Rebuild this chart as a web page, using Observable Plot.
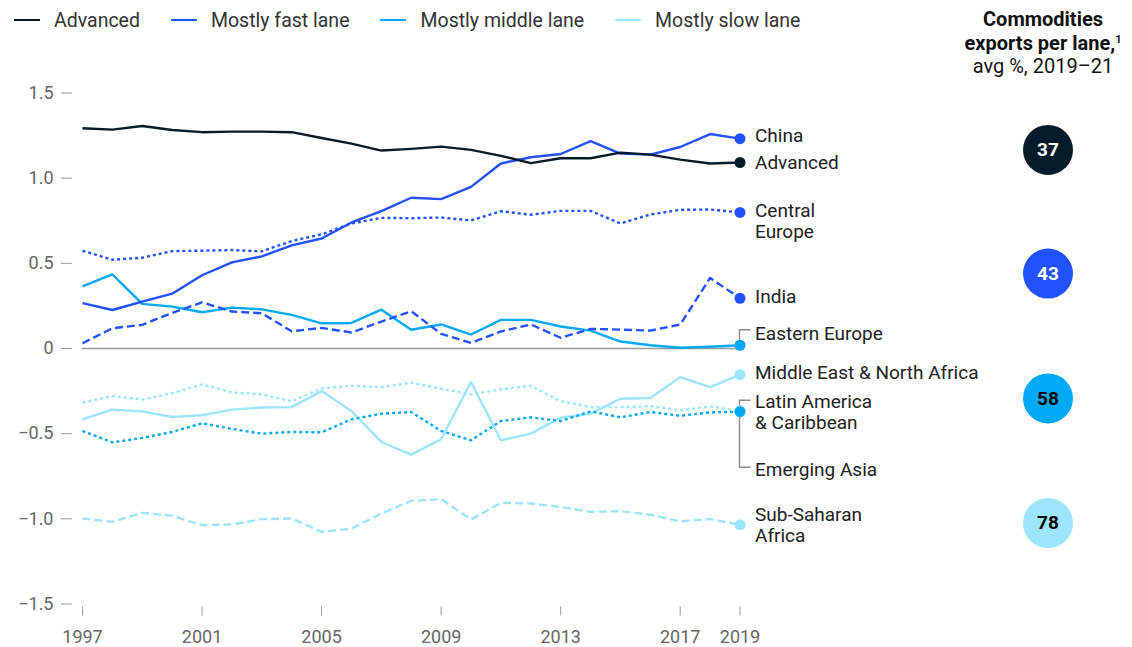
<!DOCTYPE html>
<html>
<head>
<meta charset="utf-8">
<script src="https://cdn.jsdelivr.net/npm/d3@7"></script>
<script src="https://cdn.jsdelivr.net/npm/@observablehq/plot@0.6"></script>
<style>
  body { margin: 0; background: #fff; font-family: Roboto, "Open Sans", sans-serif; }
  #wrap { position: relative; width: 1132px; height: 647px; overflow: hidden; }
  #legend { height: 40px; display: flex; align-items: center; padding-left: 14px; box-sizing: border-box; }
  .item { display: flex; align-items: center; margin-right: 31px; font-size: 19.5px; color: #333; }
  .swatch { width: 26px; height: 2px; margin-right: 14px; }
  #note { position: absolute; top: 8px; left: 943px; width: 200px; text-align: center;
          font-size: 20px; line-height: 23.5px; color: #111; }
  #note b sup { font-size: 11px; vertical-align: 7px; line-height: 0; }
  #chart svg { display: block; }
</style>
</head>
<body>
<div id="wrap">
  <div id="legend"></div>
  <div id="note"><b>Commodities<br>exports per lane,<sup>1</sup></b><br>avg %, 2019–21</div>
  <div id="chart"></div>
</div>
<script>
// ---- data ----
const years = [1997, 1998, 1999, 2000, 2001, 2002, 2003, 2004, 2005, 2006, 2007, 2008,
               2009, 2010, 2011, 2012, 2013, 2014, 2015, 2016, 2017, 2018, 2019];
const tickYears = [1997, 2001, 2005, 2009, 2013, 2017, 2019];

const lanes = ["Advanced", "Mostly fast lane", "Mostly middle lane", "Mostly slow lane"];
const laneExports = [37, 43, 58, 78];

const advanced      = [1.293, 1.285, 1.306, 1.283, 1.270, 1.273, 1.273, 1.270, 1.236, 1.203, 1.162, 1.172,
                       1.185, 1.166, 1.131, 1.088, 1.117, 1.117, 1.150, 1.138, 1.109, 1.086, 1.092];
const china         = [0.266, 0.226, 0.275, 0.322, 0.430, 0.506, 0.541, 0.605, 0.646, 0.740, 0.806, 0.885,
                       0.877, 0.949, 1.086, 1.123, 1.142, 1.218, 1.144, 1.138, 1.183, 1.259, 1.232];
const centralEurope = [0.574, 0.521, 0.533, 0.572, 0.574, 0.578, 0.570, 0.631, 0.670, 0.734, 0.767, 0.765,
                       0.769, 0.752, 0.806, 0.785, 0.808, 0.808, 0.734, 0.787, 0.814, 0.816, 0.799];
const india         = [0.031, 0.119, 0.139, 0.209, 0.271, 0.217, 0.207, 0.101, 0.121, 0.094, 0.158, 0.219,
                       0.086, 0.033, 0.100, 0.141, 0.063, 0.115, 0.111, 0.105, 0.141, 0.414, 0.295];
const easternEurope = [0.365, 0.435, 0.262, 0.246, 0.213, 0.240, 0.230, 0.197, 0.148, 0.150, 0.228, 0.110,
                       0.141, 0.082, 0.168, 0.168, 0.129, 0.105, 0.041, 0.019, 0.004, 0.010, 0.019];
const latinAmerica  = [-0.484, -0.551, -0.525, -0.490, -0.439, -0.472, -0.500, -0.490, -0.492, -0.416, -0.383, -0.373,
                       -0.484, -0.539, -0.426, -0.404, -0.426, -0.369, -0.404, -0.373, -0.395, -0.375, -0.371];
const mena          = [-0.416, -0.359, -0.369, -0.402, -0.392, -0.359, -0.346, -0.344, -0.250, -0.367, -0.549, -0.623,
                       -0.533, -0.197, -0.539, -0.500, -0.406, -0.383, -0.295, -0.291, -0.168, -0.227, -0.154];
const emergingAsia  = [-0.318, -0.279, -0.300, -0.262, -0.211, -0.258, -0.269, -0.310, -0.234, -0.219, -0.227, -0.201,
                       -0.236, -0.269, -0.240, -0.219, -0.309, -0.344, -0.344, -0.338, -0.363, -0.340, -0.367];
const subSaharan    = [-0.998, -1.017, -0.965, -0.982, -1.037, -1.033, -1.002, -0.998, -1.076, -1.058, -0.969, -0.894,
                       -0.885, -1.004, -0.906, -0.910, -0.930, -0.959, -0.955, -0.976, -1.015, -1.002, -1.035];

// ---- styling ----
const laneColor = {
  "Advanced": "#051C2C",
  "Mostly fast lane": "#2251FF",
  "Mostly middle lane": "#00A9F4",
  "Mostly slow lane": "#9DE5FC"
};
const dotted = "3,3", dashed = "8,4";

// series: label, values, lane, dash pattern, vertical label nudge (px)
const series = [
  {name: "Sub-Saharan\nAfrica", values: subSaharan, lane: "Mostly slow lane", dash: dashed, dy: 0},
  {name: "Emerging Asia", values: emergingAsia, lane: "Mostly slow lane", dash: dotted, dy: 58},
  {name: "Middle East & North Africa", values: mena, lane: "Mostly slow lane", dash: null, dy: -2},
  {name: "Latin America\n& Caribbean", values: latinAmerica, lane: "Mostly middle lane", dash: dotted, dy: 0},
  {name: "Eastern Europe", values: easternEurope, lane: "Mostly middle lane", dash: null, dy: -12},
  {name: "India", values: india, lane: "Mostly fast lane", dash: dashed, dy: -2},
  {name: "Central\nEurope", values: centralEurope, lane: "Mostly fast lane", dash: dotted, dy: 8},
  {name: "China", values: china, lane: "Mostly fast lane", dash: null, dy: -3},
  {name: "Advanced", values: advanced, lane: "Advanced", dash: null, dy: 0}
];

// vertical anchors (in y units) of the export-share badges
const badgeAnchor = [1.166, 0.44, -0.293, -1.025];

// ---- legend ----
const legend = d3.select("#legend");
lanes.forEach(l => {
  const it = legend.append("div").attr("class", "item");
  it.append("div").attr("class", "swatch").style("background", laneColor[l]);
  it.append("span").text(l);
});

// ---- chart ----
const lastYear = years[years.length - 1];
const marks = [];

marks.push(Plot.ruleY([0], {x1: years[0], x2: lastYear, stroke: "#9a9a9a", strokeWidth: 1.5}));

for (const s of series) {
  const rows = years.map((year, i) => ({year, value: s.values[i]}));
  marks.push(Plot.line(rows, {
    x: "year", y: "value", stroke: laneColor[s.lane], strokeWidth: 2.4,
    strokeDasharray: s.dash ?? undefined, strokeLinejoin: "round", strokeLinecap: "butt"
  }));
}

// leader brackets joining end dots to offset labels
function bracket(name, rise, run) {
  return (index, {x, y}) => {
    const s = series.find(d => d.name === name);
    const px = x(lastYear), py = y(s.values[s.values.length - 1]);
    return d3.create("svg:path")
      .attr("d", `M${px},${py}V${py - rise}H${px + run}`)
      .attr("fill", "none").attr("stroke", "#8a8a8a").attr("stroke-width", 1.4)
      .node();
  };
}
marks.push(bracket("Eastern Europe", 15, 11));
marks.push(bracket("Latin America\n& Caribbean", 11, 11));
marks.push(bracket("Latin America\n& Caribbean", -56, 11));

// end-point dots and labels
for (const s of series) {
  const end = [{year: lastYear, value: s.values[s.values.length - 1], name: s.name}];
  marks.push(Plot.dot(end, {x: "year", y: "value", r: 5.5, fill: laneColor[s.lane]}));
  marks.push(Plot.text(end, {
    x: "year", y: "value", text: "name", dx: 15, dy: s.dy, textAnchor: "start",
    fontSize: 19, fill: "#222", lineHeight: 1.1
  }));
}

// export-share badges per lane
const badges = lanes.map((l, i) => ({lane: l, share: laneExports[i], pos: badgeAnchor[i], year: lastYear}));
marks.push(Plot.dot(badges, {x: "year", y: "pos", dx: 308, r: 25, fill: d => laneColor[d.lane]}));
marks.push(Plot.text(badges, {
  x: "year", y: "pos", dx: 308, text: "share", fontSize: 19, fontWeight: 700,
  fill: d => (d.lane === "Advanced" || d.lane === "Mostly fast lane") ? "#fff" : "#000"
}));

// axes
marks.push(Plot.axisY({
  ticks: [1.5, 1, 0.5, 0, -0.5, -1, -1.5],
  tickFormat: d => d === 0 ? "0" : d3.format(".1f")(d),
  tickSize: 11, tickPadding: 8, dx: -10, fontSize: 18, color: "#666", stroke: "#999", label: null
}));
marks.push(Plot.axisX({
  ticks: tickYears, tickFormat: d => String(d),
  tickSize: 9, tickPadding: 14, dy: 3, fontSize: 18, color: "#666", stroke: "#999", label: null
}));

const plot = Plot.plot({
  width: 1132,
  height: 607,
  marginLeft: 82,
  marginRight: 392.5,
  marginTop: 52.5,
  marginBottom: 43.5,
  style: {fontFamily: "Roboto, sans-serif", background: "#fff", overflow: "visible"},
  x: {domain: [years[0], lastYear], axis: null},
  y: {domain: [-1.5, 1.5], axis: null},
  marks
});
document.getElementById("chart").append(plot);
</script>
</body>
</html>
